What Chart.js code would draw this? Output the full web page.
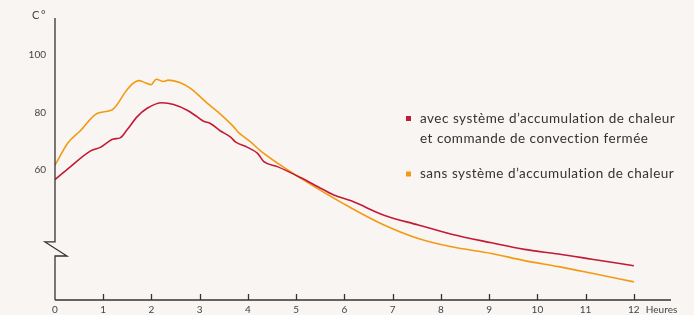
<!DOCTYPE html>
<html>
<head>
<meta charset="utf-8">
<script src="https://cdn.jsdelivr.net/npm/chart.js@4.4.1/dist/chart.umd.min.js"></script>
<style>
  html, body { margin: 0; padding: 0; background: #f8f5f2; }
  #wrap { position: relative; width: 694px; height: 315px; }
  canvas { display: block; }
</style>
</head>
<body>
<div id="wrap"><canvas id="c" width="694" height="315"></canvas></div>
<script>
// ---- data ----
const seriesNames = [
  ["avec système d’accumulation de chaleur", "et commande de convection fermée"],
  ["sans système d’accumulation de chaleur"]
];
const redHours = [0, 0.31, 0.73, 0.94, 1.21, 1.35, 1.49, 1.70, 1.91, 2.22, 2.46, 2.74, 2.95, 3.08, 3.22, 3.43, 3.64, 3.74, 3.99, 4.20, 4.33, 4.61, 5.10, 5.45, 5.78, 6.14, 6.82, 7.53, 8.22, 9.05, 9.73, 10.44, 11.13, 12.0];
const redTemps = [56.7, 61.0, 66.6, 67.9, 70.8, 71.2, 73.9, 78.5, 81.5, 83.4, 82.8, 80.8, 78.5, 77.0, 76.2, 73.6, 71.5, 69.8, 67.9, 65.8, 62.9, 61.2, 57.3, 54.2, 51.3, 49.3, 44.3, 40.9, 37.7, 34.7, 32.4, 30.8, 29.0, 26.7];
const orangeHours = [0, 0.27, 0.52, 0.87, 1.18, 1.28, 1.46, 1.60, 1.74, 1.87, 1.99, 2.10, 2.25, 2.35, 2.60, 2.81, 3.16, 3.37, 3.70, 3.79, 4.06, 4.26, 5.10, 6.14, 6.82, 7.53, 8.22, 9.05, 9.73, 10.44, 11.13, 12.0];
const orangeTemps = [61.7, 69.5, 73.6, 79.7, 80.9, 82.6, 87.2, 89.9, 91.1, 90.4, 89.7, 91.6, 90.8, 91.3, 90.4, 88.4, 83.2, 80.3, 75.1, 73.3, 69.7, 66.7, 57.1, 46.8, 40.9, 36.2, 33.3, 31.0, 28.5, 26.4, 24.1, 21.1];
const xTickValues = [0, 1, 2, 3, 4, 5, 6, 7, 8, 9, 10, 11, 12];
const yTickValues = [60, 80, 100];
const yAxisLabel = "C°";
const xAxisLabel = "Heures";

const RED = "#c41a35";
const ORANGE = "#f39a12";
const AXIS = "#333333";
const TEXT = "#444444";

const toPts = (xs, ys) => xs.map((x, i) => ({ x: x, y: ys[i] }));

const decorPlugin = {
  id: 'decor',
  afterDraw(chart) {
    const ctx = chart.ctx;
    const xs = chart.scales.x, ys = chart.scales.y;
    const ca = chart.chartArea;
    ctx.save();
    ctx.strokeStyle = AXIS;
    ctx.lineWidth = 1.3;
    // x axis line
    ctx.beginPath();
    ctx.moveTo(ca.left, ca.bottom);
    ctx.lineTo(ca.right, ca.bottom);
    ctx.stroke();
    // x tick marks (upward)
    xTickValues.forEach(v => {
      if (v === 0) return;
      const px = Math.round(xs.getPixelForValue(v)) + 0.5;
      ctx.beginPath();
      ctx.moveTo(px, ca.bottom);
      ctx.lineTo(px, ca.bottom - 6);
      ctx.stroke();
    });
    // y axis with break
    const yb1 = ys.getPixelForValue(35);
    const yb2 = ys.getPixelForValue(30.1);
    const ax = ca.left;
    ctx.beginPath();
    ctx.moveTo(ax, ca.top);
    ctx.lineTo(ax, yb1);
    ctx.lineTo(ax - 10, yb1);
    ctx.lineTo(ax + 12, yb2);
    ctx.lineTo(ax, yb2);
    ctx.lineTo(ax, ca.bottom);
    ctx.stroke();
    // axis titles
    ctx.fillStyle = TEXT;
    ctx.textBaseline = 'middle';
    ctx.textAlign = 'right';
    ctx.font = '11px Lato';
    ctx.letterSpacing = '1.5px';
    ctx.fillText(yAxisLabel, ax - 8, 15);
    ctx.letterSpacing = '0px';
    ctx.font = '10px Lato';
    ctx.textAlign = 'left';
    ctx.fillText(xAxisLabel, xs.getPixelForValue(12) + 12, 310);
    // legend
    const lx = 406, tx = 420;
    ctx.fillStyle = RED;
    ctx.fillRect(lx, 116, 5, 5);
    ctx.fillStyle = ORANGE;
    ctx.fillRect(lx, 171.5, 5, 5);
    ctx.fillStyle = '#333';
    ctx.font = '13.5px Lato';
    ctx.letterSpacing = '0.5px';
    ctx.fillText(seriesNames[0][0], tx, 119);
    ctx.fillText(seriesNames[0][1], tx, 139);
    ctx.fillText(seriesNames[1][0], tx, 174);
    ctx.restore();
  }
};

new Chart(document.getElementById('c'), {
  type: 'line',
  data: {
    datasets: [
      { label: seriesNames[0].join(' '), data: toPts(redHours, redTemps), borderColor: RED, borderWidth: 1.6, pointRadius: 0, cubicInterpolationMode: 'monotone', fill: false },
      { label: seriesNames[1].join(' '), data: toPts(orangeHours, orangeTemps), borderColor: ORANGE, borderWidth: 1.6, pointRadius: 0, cubicInterpolationMode: 'monotone', fill: false }
    ]
  },
  options: {
    responsive: false,
    animation: false,
    layout: { padding: { top: 18, right: 23, left: 0, bottom: 0 } },
    plugins: { legend: { display: false }, tooltip: { enabled: false } },
    scales: {
      x: {
        type: 'linear',
        min: 0, max: 12.77,
        grid: { display: false, drawTicks: false },
        border: { display: false },
        afterBuildTicks: s => { s.ticks = xTickValues.map(v => ({ value: v })); },
        afterFit: s => { s.height = 15; },
        ticks: { padding: 4, color: TEXT, font: { family: 'Lato', size: 10 }, maxRotation: 0, autoSkip: false }
      },
      y: {
        min: 14.8, max: 112.9,
        grid: { display: false, drawTicks: false },
        border: { display: false },
        afterBuildTicks: s => { s.ticks = yTickValues.map(v => ({ value: v })); },
        afterFit: s => { s.width = 55; },
        ticks: { padding: 9, color: TEXT, font: { family: 'Lato', size: 10 } }
      }
    }
  },
  plugins: [decorPlugin]
});
</script>
</body>
</html>
